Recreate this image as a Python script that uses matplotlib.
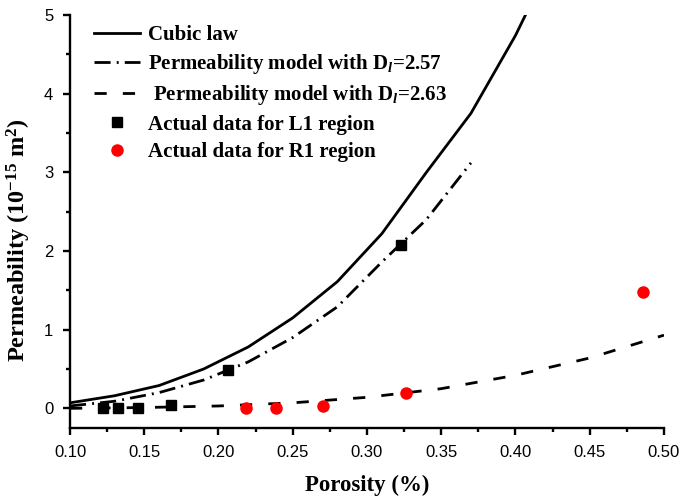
import matplotlib
matplotlib.use('Agg')
import matplotlib.pyplot as plt
from matplotlib.ticker import MultipleLocator

# data
cubic_x = [0.10, 0.13, 0.16, 0.19, 0.22, 0.25, 0.28, 0.31, 0.34, 0.37, 0.40, 0.43]
cubic_y = [0.07, 0.16, 0.29, 0.50, 0.78, 1.15, 1.61, 2.22, 3.00, 3.75, 4.74, 5.90]

model257_x = [0.10, 0.13, 0.16, 0.19, 0.22, 0.25, 0.28, 0.31, 0.34, 0.37]
model257_y = [0.03, 0.09, 0.20, 0.36, 0.59, 0.90, 1.29, 1.86, 2.40, 3.12]

model263_x = [0.10, 0.15, 0.20, 0.25, 0.30, 0.35, 0.40, 0.45, 0.50]
model263_y = [0.00, 0.01, 0.03, 0.07, 0.14, 0.25, 0.42, 0.64, 0.93]

l1_x = [0.1222, 0.1323, 0.1458, 0.168, 0.2064, 0.3229]
l1_y = [0.0, 0.0, 0.0, 0.047, 0.49, 2.07]

r1_x = [0.2183, 0.239, 0.2704, 0.3263, 0.4859]
r1_y = [0.0, 0.0, 0.03, 0.19, 1.476]

plt.rcParams['font.family'] = ['Liberation Sans', 'DejaVu Sans']
plt.rcParams['mathtext.fontset'] = 'custom'
plt.rcParams['mathtext.rm'] = 'Liberation Serif:bold'
plt.rcParams['mathtext.bf'] = 'Liberation Serif:bold'
plt.rcParams['mathtext.it'] = 'Liberation Serif:bold:italic'

fig = plt.figure(figsize=(6.81, 5.0), dpi=100)
ax = fig.add_axes([0.1028, 0.144, 0.8722, 0.826])

lw = 2.0
ax.plot(cubic_x, cubic_y, color='black', lw=lw, label='Cubic law')
ax.plot(model257_x, model257_y, color='black', lw=lw,
        linestyle=(0, (5.8, 2.2, 0.7, 2.2)),
        label=r'Permeability model with D$_{\mathit{l}}$=2.57')
ax.plot(model263_x, model263_y, color='black', lw=lw,
        linestyle=(0, (4.4, 5.8)),
        label=r' Permeability model with D$_{\mathit{l}}$=2.63')
ax.plot(l1_x, l1_y, 's', color='black', ms=7.5, lw=0,
        label='Actual data for L1 region')
ax.plot(r1_x, r1_y, 'o', color='red', ms=8, lw=0,
        label='Actual data for R1 region')

ax.set_xlim(0.10, 0.50)
ax.set_ylim(-0.25, 5)
ax.xaxis.set_major_locator(MultipleLocator(0.05))
ax.xaxis.set_minor_locator(MultipleLocator(0.025))
ax.yaxis.set_major_locator(MultipleLocator(1))
ax.yaxis.set_minor_locator(MultipleLocator(0.5))
ax.set_xticklabels([f'{v:.2f}' for v in ax.get_xticks()])

for s in ['top', 'right']:
    ax.spines[s].set_visible(False)
for s in ['left', 'bottom']:
    ax.spines[s].set_linewidth(1.7)
ax.tick_params(which='major', direction='out', length=5, width=1.7,
               labelsize=12, pad=7)
ax.tick_params(which='minor', direction='out', length=3, width=1.7)

ax.set_xlabel('Porosity (%)', family='Liberation Serif', weight='bold',
              size=16.5, labelpad=11)
ax.set_ylabel(r'Permeability (10$^{-15}$ m$^{2}$)', family='Liberation Serif',
              weight='bold', size=17.5)
ax.yaxis.set_label_coords(-0.062, 0.455)

leg = ax.legend(loc='upper left', bbox_to_anchor=(0.04, 0.976), frameon=False,
                prop={'family': 'Liberation Serif', 'weight': 'bold', 'size': 15},
                handlelength=2.2, handletextpad=0.4, labelspacing=0.35,
                borderpad=0, borderaxespad=0)

fig.savefig('out.png', dpi=100)
